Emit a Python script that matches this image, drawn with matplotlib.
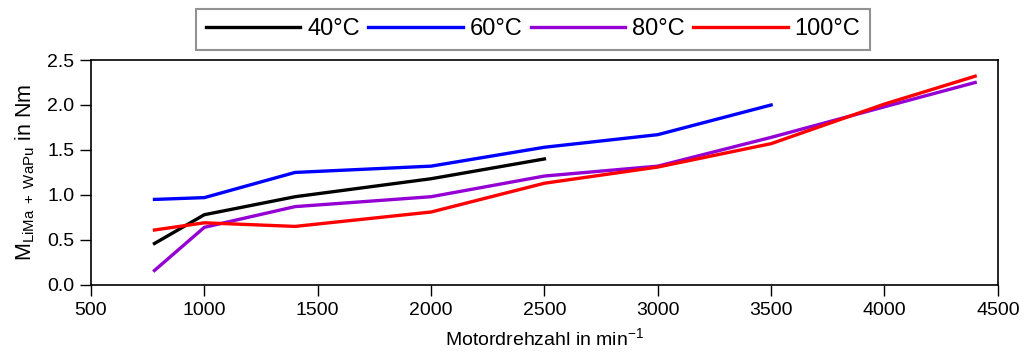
import matplotlib
matplotlib.use("Agg")
import matplotlib.pyplot as plt

plt.rcParams['font.family'] = ['Liberation Sans', 'DejaVu Sans']
plt.rcParams['mathtext.fontset'] = 'custom'
plt.rcParams['mathtext.rm'] = 'Liberation Sans'
plt.rcParams['mathtext.it'] = 'Liberation Sans:italic'

# data
speed_40 = [780, 1000, 1400, 2000, 2500]
torque_40 = [0.46, 0.78, 0.98, 1.18, 1.40]

speed_60 = [780, 1000, 1400, 2000, 2500, 3000, 3500]
torque_60 = [0.95, 0.97, 1.25, 1.32, 1.53, 1.67, 2.00]

speed_80 = [780, 1000, 1400, 2000, 2500, 3000, 3500, 4000, 4400]
torque_80 = [0.16, 0.64, 0.87, 0.98, 1.21, 1.32, 1.64, 1.98, 2.25]

speed_100 = [780, 1000, 1400, 2000, 2500, 3000, 3500, 4000, 4400]
torque_100 = [0.61, 0.69, 0.65, 0.81, 1.13, 1.31, 1.57, 2.01, 2.32]

series = [
    (speed_40, torque_40, '#000000', '40°C'),
    (speed_60, torque_60, '#0000ff', '60°C'),
    (speed_80, torque_80, '#9400d3', '80°C'),
    (speed_100, torque_100, '#ff0000', '100°C'),
]

fig = plt.figure(figsize=(10.27, 3.53), dpi=100)
ax = fig.add_axes([0.0886, 0.193, 0.883, 0.637])

for x, y, c, lab in series:
    ax.plot(x, y, color=c, lw=2.4, label=lab)

ax.set_xlim(500, 4500)
ax.set_ylim(0, 2.5)
ax.set_xticks(range(500, 4501, 500))
ax.set_yticks([0.0, 0.5, 1.0, 1.5, 2.0, 2.5])
ax.set_yticklabels(['0.0', '0.5', '1.0', '1.5', '2.0', '2.5'])
ax.tick_params(labelsize=14, length=8, width=1, direction='out', pad=4)
for s in ax.spines.values():
    s.set_linewidth(1.2)

ax.set_xlabel('Motordrehzahl in min$^{-1}$', fontsize=14, labelpad=6)
ax.set_ylabel(r'M$_{\mathrm{LiMa\ +\ WaPu}}$ in Nm', fontsize=15.5, labelpad=7)

leg = fig.legend(loc='center', bbox_to_anchor=(0.519, 0.917), ncol=4,
                 fontsize=17, frameon=True, fancybox=False, handlelength=4.0,
                 handletextpad=0.3, columnspacing=0.35, borderpad=0.4,
                 borderaxespad=0)
leg.get_frame().set_edgecolor('#777777')
leg.get_frame().set_linewidth(1.5)

fig.savefig('out.png', dpi=100)
